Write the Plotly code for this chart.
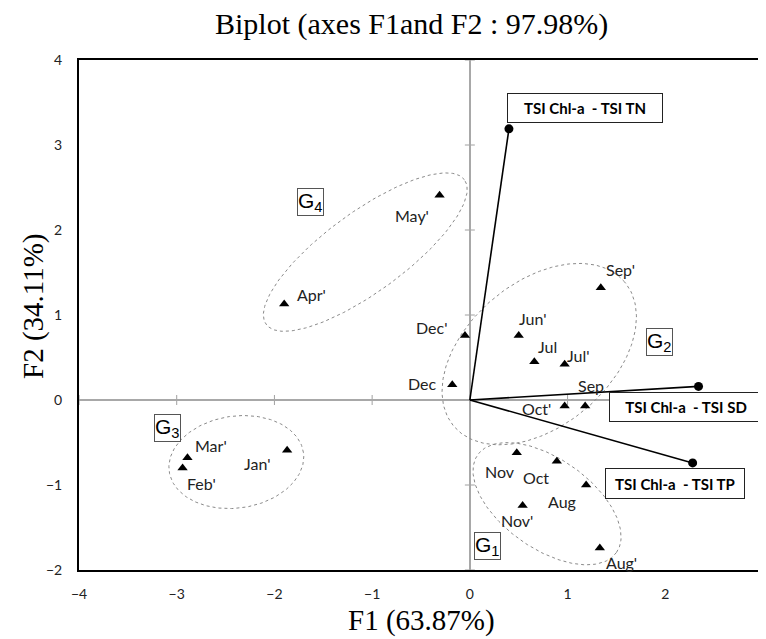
import numpy as np
import plotly.graph_objects as go

# ---- data ----
months = ["May'", "Apr'", "Dec'", "Dec", "Jun'", "Jul", "Jul'", "Sep'", "Sep", "Oct'",
          "Nov", "Oct", "Aug", "Nov'", "Aug'", "Mar'", "Feb'", "Jan'"]
f1 = [-0.31, -1.90, -0.05, -0.18, 0.50, 0.66, 0.97, 1.34, 1.18, 0.97,
      0.48, 0.89, 1.19, 0.54, 1.33, -2.89, -2.94, -1.87]
f2 = [2.41, 1.13, 0.76, 0.18, 0.76, 0.45, 0.42, 1.32, -0.07, -0.07,
      -0.62, -0.72, -1.00, -1.24, -1.74, -0.68, -0.80, -0.59]

variables = ["TSI Chl-a  - TSI TN", "TSI Chl-a  - TSI SD", "TSI Chl-a  - TSI TP"]
var_f1 = [0.40, 2.34, 2.28]
var_f2 = [3.19, 0.16, -0.74]

x_ticks = [-4, -3, -2, -1, 0, 1, 2, 3]
y_ticks = [-2, -1, 0, 1, 2, 3, 4]

groups = ["G1", "G2", "G3", "G4"]

# ---- layout helpers (pixel geometry; page body adds an 8px margin) ----
W, H = 758, 631
ML, MR, MT, MB = 71, 1, 52, 69
PX_X = (W - ML - MR) / 7.0   # px per F1 unit
PX_Y = (H - MT - MB) / 6.0   # px per F2 unit

SANS = "Lato, Noto Sans, Liberation Sans, sans-serif"
SERIF = "Liberation Serif, Times New Roman, serif"

label_shift = {
    "May'": (-28, -20), "Apr'": (27, 9), "Dec'": (-33, 8), "Dec": (-30, 1),
    "Jun'": (14, 17), "Jul": (13, 15), "Jul'": (14, 9), "Sep'": (20, 18),
    "Sep": (6, 20), "Oct'": (-28, -3), "Nov": (-17, -19), "Oct": (-21, -16),
    "Aug": (-24, -16), "Nov'": (-6, -15), "Aug'": (22, -15), "Mar'": (24, 12),
    "Feb'": (19, -15), "Jan'": (-30, -13),
}

# ellipse outlines: centre (data), semi-axes (px), rotation (deg, screen, CCW)
ellipses = {
    "G1": dict(c=(0.79, -1.22), a=85, b=45, rot=-35),
    "G2": dict(c=(0.71, 0.54), a=112, b=72, rot=40),
    "G3": dict(c=(-2.39, -0.73), a=68, b=46, rot=8),
    "G4": dict(c=(-1.07, 1.74), a=123, b=40, rot=36),
}
group_box = {"G1": (0.18, -1.72), "G2": (1.94, 0.68), "G3": (-3.09, -0.33), "G4": (-1.63, 2.33)}

var_box = [
    dict(x=1.18, y=3.44, w=152, h=26),
    dict(x=2.21, y=-0.08, w=150, h=26),
    dict(x=2.10, y=-0.98, w=136, h=27),
]

fig = go.Figure()

# ellipses
t = np.linspace(0, 2 * np.pi, 200)
for g in groups:
    e = ellipses[g]
    th = np.radians(e["rot"])
    dx = e["a"] * np.cos(t) * np.cos(th) - e["b"] * np.sin(t) * np.sin(th)
    dy = e["a"] * np.cos(t) * np.sin(th) + e["b"] * np.sin(t) * np.cos(th)
    fig.add_trace(go.Scatter(
        x=e["c"][0] + dx / PX_X, y=e["c"][1] + dy / PX_Y, mode="lines",
        line=dict(color="#8a8a8a", width=1, dash="dot"), hoverinfo="skip", showlegend=False))

# vectors
for vx, vy in zip(var_f1, var_f2):
    fig.add_trace(go.Scatter(
        x=[0, vx], y=[0, vy], mode="lines", line=dict(color="black", width=1.6),
        showlegend=False, hoverinfo="skip"))
fig.add_trace(go.Scatter(
    x=var_f1, y=var_f2, mode="markers", marker=dict(color="black", size=9, symbol="circle"),
    showlegend=False))

# observations
fig.add_trace(go.Scatter(
    x=f1, y=f2, mode="markers",
    marker=dict(color="black", size=9, symbol="triangle-up"),
    showlegend=False, text=months))

annotations = []
for m, x, y in zip(months, f1, f2):
    sx, sy = label_shift[m]
    annotations.append(dict(
        x=x, y=y, text=m, showarrow=False, xshift=sx, yshift=sy,
        font=dict(family=SANS, size=16, color="#222")))

for name, b in zip(variables, var_box):
    annotations.append(dict(
        x=b["x"], y=b["y"], text="<b>" + name.replace("  ", "&nbsp; ") + "</b>", showarrow=False,
        width=b["w"], height=b["h"], align="center", valign="middle",
        bordercolor="#222", borderwidth=1, bgcolor="white", borderpad=1,
        font=dict(family=SANS, size=15, color="black")))

for g in groups:
    gx, gy = group_box[g]
    annotations.append(dict(
        x=gx, y=gy, text=g[0] + "<sub>" + g[1] + "</sub>", showarrow=False,
        bordercolor="#555", borderwidth=1, borderpad=0, bgcolor="white",
        font=dict(family="Liberation Sans, Arial, sans-serif", size=21, color="black")))

# axis titles & main title
annotations.append(dict(
    x=0.5, y=1, xref="paper", yref="paper", yshift=36, xshift=-10,
    text="Biplot (axes F1and F2 : 97.98%)", showarrow=False, yanchor="middle",
    font=dict(family=SERIF, size=30, color="black")))
annotations.append(dict(
    x=0.5, y=0, xref="paper", yref="paper", yshift=-50, xshift=0,
    text="F1 (63.87%)", showarrow=False, yanchor="middle",
    font=dict(family=SERIF, size=29, color="black")))
annotations.append(dict(
    x=0, y=0.5, xref="paper", yref="paper", xshift=-46, yshift=9,
    text="F2 (34.11%)", showarrow=False, textangle=-90, xanchor="center",
    font=dict(family=SERIF, size=29, color="black")))

# small tick crosses on the zero axes
shapes = []
for yv in y_ticks:
    shapes.append(dict(type="line", x0=-5 / PX_X, x1=5 / PX_X, y0=yv, y1=yv,
                       line=dict(color="#a0a0a0", width=1), layer="below"))
for xv in x_ticks:
    shapes.append(dict(type="line", x0=xv, x1=xv, y0=-5 / PX_Y, y1=5 / PX_Y,
                       line=dict(color="#a0a0a0", width=1), layer="below"))

fig.update_layout(
    width=W, height=H, margin=dict(l=ML, r=MR, t=MT, b=MB),
    plot_bgcolor="white", paper_bgcolor="white",
    annotations=annotations, shapes=shapes, showlegend=False,
    xaxis=dict(range=[-4, 3], tickvals=x_ticks, showgrid=False,
               zeroline=True, zerolinecolor="#a8a8a8", zerolinewidth=1.5,
               showline=True, mirror=True, linecolor="black", linewidth=2,
               ticks="outside", ticklen=10, tickcolor="rgba(0,0,0,0)",
               tickfont=dict(family=SANS, size=14, color="#222")),
    yaxis=dict(range=[-2, 4], tickvals=y_ticks, showgrid=False,
               zeroline=True, zerolinecolor="#a8a8a8", zerolinewidth=1.5,
               showline=True, mirror=True, linecolor="black", linewidth=2,
               ticks="outside", ticklen=12, tickcolor="rgba(0,0,0,0)",
               tickfont=dict(family=SANS, size=14, color="#222")),
)

fig.write_html("out.html")
